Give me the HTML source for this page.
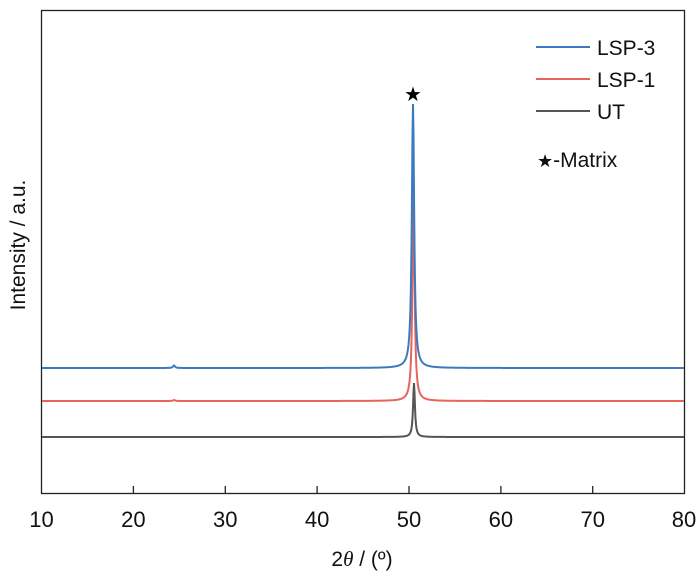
<!DOCTYPE html>
<html><head><meta charset="utf-8"><style>
html,body{margin:0;padding:0;background:#fff;}
svg{display:block;font-family:"Liberation Sans",Arial,sans-serif;}
</style></head><body>
<svg id="s" width="700" height="580" viewBox="0 0 700 580" xmlns="http://www.w3.org/2000/svg">
<rect x="41.5" y="10.5" width="643" height="483" fill="none" stroke="#222" stroke-width="1.3"/>
<g stroke="#222" stroke-width="1.3">
<line x1="133.4" y1="493" x2="133.4" y2="486"/>
<line x1="225.3" y1="493" x2="225.3" y2="486"/>
<line x1="317.1" y1="493" x2="317.1" y2="486"/>
<line x1="409" y1="493" x2="409" y2="486"/>
<line x1="500.9" y1="493" x2="500.9" y2="486"/>
<line x1="592.7" y1="493" x2="592.7" y2="486"/>
</g>
<g font-size="22" fill="#111" text-anchor="middle">
<text x="41.5" y="527">10</text><text x="133.4" y="527">20</text><text x="225.3" y="527">30</text><text x="317.1" y="527">40</text><text x="409" y="527">50</text><text x="500.9" y="527">60</text><text x="592.7" y="527">70</text><text x="684" y="527">80</text>
</g>
<text x="362" y="566" font-size="21" text-anchor="middle" fill="#111">2<tspan font-style="italic" font-family="Liberation Serif,serif">θ</tspan> / (º)</text>
<text transform="translate(25,245) rotate(-90)" font-size="21" text-anchor="middle" fill="#111">Intensity / a.u.</text>
<path id="ut" fill="none" stroke="#555" stroke-width="2"/>
<path id="l1" fill="none" stroke="#e8645a" stroke-width="2"/>
<path id="l3" fill="none" stroke="#3b7ac0" stroke-width="2"/>
<text x="413" y="101" font-size="20" text-anchor="middle">★</text>
<line x1="536" y1="47" x2="590" y2="47" stroke="#3b7ac0" stroke-width="2"/>
<line x1="536" y1="79" x2="590" y2="79" stroke="#e8645a" stroke-width="2"/>
<line x1="536" y1="111" x2="590" y2="111" stroke="#555" stroke-width="2"/>
<g font-size="21" fill="#111">
<text x="597" y="55">LSP-3</text><text x="597" y="87">LSP-1</text><text x="597" y="119">UT</text>
<text x="537" y="167"><tspan font-size="18">★</tspan>-Matrix</text>
</g>
</svg>
<script>
function mk(id,base,h,w,c,blip){var d="";for(var x=42;x<=684;x+=0.5){var t=(x-c)/w;var y=base-h/(1+t*t);if(blip){var b=(x-174)/1.2;y-=blip/(1+b*b);}d+=(d?"L":"M")+x+","+y.toFixed(2);}document.getElementById(id).setAttribute("d",d);}
mk("ut",437,54,1.1,414,0);
mk("l1",401,203,1.3,413.5,1);
mk("l3",368,264,1.4,413,2.5);
</script>
</body></html>
